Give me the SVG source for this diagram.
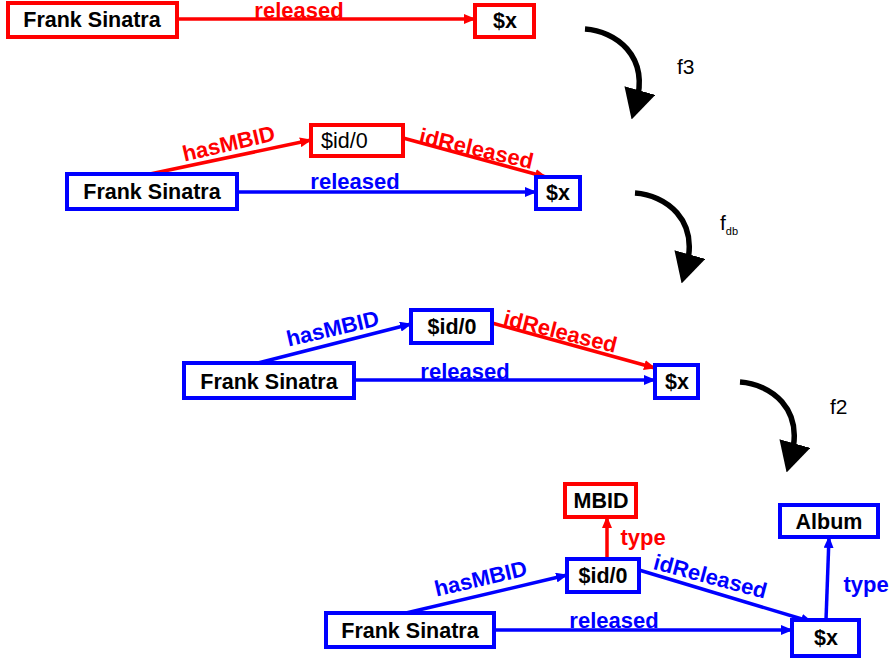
<svg xmlns="http://www.w3.org/2000/svg" width="889" height="661" viewBox="0 0 889 661">
  <defs>
    <marker id="ahR" viewBox="0 0 12 10" refX="11" refY="5" markerWidth="12" markerHeight="10" markerUnits="userSpaceOnUse" orient="auto">
      <path d="M0,0 L12,5 L0,10 z" fill="#ff0000"/>
    </marker>
    <marker id="ahB" viewBox="0 0 12 10" refX="11" refY="5" markerWidth="12" markerHeight="10" markerUnits="userSpaceOnUse" orient="auto">
      <path d="M0,0 L12,5 L0,10 z" fill="#0000ff"/>
    </marker>
    <marker id="ahK" viewBox="0 0 30 32" refX="14" refY="16" markerWidth="30" markerHeight="32" markerUnits="userSpaceOnUse" orient="auto">
      <path d="M0,0 L30,16 L0,32 z" fill="#000"/>
    </marker>
  </defs>
  <style>
    .bx { fill: #fff; stroke-width: 4; }
    .r { stroke: #ff0000; }
    .b { stroke: #0000ff; }
    .t { font-family: "Liberation Sans", Arial, sans-serif; font-size: 21.5px; font-weight: bold; fill: #000; text-anchor: middle; }
    .lbl { font-family: "Liberation Sans", Arial, sans-serif; font-size: 22px; font-weight: bold; text-anchor: middle; }
    .lr { fill: #ff0000; }
    .lb { fill: #0000ff; }
    .e { fill: none; stroke-width: 3.5; }
    .er { stroke: #ff0000; marker-end: url(#ahR); }
    .eb { stroke: #0000ff; marker-end: url(#ahB); }
    .step { fill: none; stroke: #000; stroke-width: 5.5; marker-end: url(#ahK); }
    .fn { font-family: "Liberation Sans", Arial, sans-serif; font-size: 21px; fill: #000; }
  </style>

  <!-- connectors -->
  <g id="connectors">
    <!-- graph 1 -->
    <line class="e er" x1="177" y1="19" x2="475" y2="19"/>
    <!-- graph 2 -->
    <line class="e er" x1="150" y1="174" x2="311" y2="140"/>
    <line class="e er" x1="403" y1="138" x2="546" y2="177"/>
    <line class="e eb" x1="237" y1="192" x2="536" y2="192"/>
    <!-- graph 3 -->
    <line class="e eb" x1="258" y1="363" x2="411" y2="324"/>
    <line class="e er" x1="492" y1="323" x2="655" y2="368"/>
    <line class="e eb" x1="354" y1="380" x2="655" y2="380"/>
    <!-- graph 4 -->
    <line class="e er" x1="607" y1="559" x2="607" y2="517"/>
    <line class="e eb" x1="406" y1="613" x2="567" y2="575"/>
    <line class="e eb" x1="639" y1="570" x2="812" y2="622"/>
    <line class="e eb" x1="494" y1="630" x2="792" y2="630"/>
    <line class="e eb" x1="826" y1="620" x2="829" y2="537"/>

    <!-- edge labels -->
    <text class="lbl lr" x="299" y="18">released</text>
    <text class="lbl lr" x="229" y="151" transform="rotate(-13 229 145)">hasMBID</text>
    <text class="lbl lr" x="476" y="156" transform="rotate(13 476 150)">idReleased</text>
    <text class="lbl lb" x="355" y="189">released</text>
    <text class="lbl lb" x="333" y="336" transform="rotate(-13 333 330)">hasMBID</text>
    <text class="lbl lr" x="560" y="339" transform="rotate(14 560 333)">idReleased</text>
    <text class="lbl lb" x="465" y="379">released</text>
    <text class="lbl lr" x="643" y="545">type</text>
    <text class="lbl lb" x="481" y="586" transform="rotate(-13 481 580)">hasMBID</text>
    <text class="lbl lb" x="710" y="584" transform="rotate(15 710 578)">idReleased</text>
    <text class="lbl lb" x="614" y="628">released</text>
    <text class="lbl lb" x="866" y="592">type</text>
  </g>

  <!-- transformation steps -->
  <g id="step-f3">
    <path class="step" d="M585,29 C615,31 650,55 636,104"/>
    <text class="fn" x="677" y="74">f3</text>
  </g>
  <g id="step-fdb">
    <path class="step" d="M635,193 C665,195 700,219 686,268"/>
    <text class="fn" x="720" y="230">f<tspan font-size="11" dy="5">db</tspan></text>
  </g>
  <g id="step-f2">
    <path class="step" d="M740,382 C770,384 805,408 791,457"/>
    <text class="fn" x="830" y="414">f2</text>
  </g>

  <!-- graph 1 -->
  <g id="g1-frank">
    <rect class="bx r" x="8" y="3" width="169" height="34"/>
    <text class="t" x="92" y="27">Frank Sinatra</text>
  </g>
  <g id="g1-x">
    <rect class="bx r" x="475" y="5" width="59" height="32"/>
    <text class="t" x="505" y="28">$x</text>
  </g>

  <!-- graph 2 -->
  <g id="g2-id">
    <rect class="bx r" x="311" y="125" width="92" height="31"/>
    <text class="t" x="321" y="148" style="font-weight:normal;text-anchor:start">$id/0</text>
  </g>
  <g id="g2-frank">
    <rect class="bx b" x="67" y="174" width="170" height="35"/>
    <text class="t" x="152" y="199">Frank Sinatra</text>
  </g>
  <g id="g2-x">
    <rect class="bx b" x="536" y="177" width="44" height="32"/>
    <text class="t" x="558" y="200">$x</text>
  </g>

  <!-- graph 3 -->
  <g id="g3-id">
    <rect class="bx b" x="411" y="310" width="81" height="33"/>
    <text class="t" x="452" y="334">$id/0</text>
  </g>
  <g id="g3-frank">
    <rect class="bx b" x="184" y="363" width="170" height="35"/>
    <text class="t" x="269" y="389">Frank Sinatra</text>
  </g>
  <g id="g3-x">
    <rect class="bx b" x="655" y="365" width="43" height="33"/>
    <text class="t" x="677" y="389">$x</text>
  </g>

  <!-- graph 4 -->
  <g id="g4-mbid">
    <rect class="bx r" x="565" y="484" width="71" height="33"/>
    <text class="t" x="601" y="508">MBID</text>
  </g>
  <g id="g4-id">
    <rect class="bx b" x="567" y="559" width="72" height="33"/>
    <text class="t" x="603" y="583">$id/0</text>
  </g>
  <g id="g4-album">
    <rect class="bx b" x="780" y="505" width="98" height="32"/>
    <text class="t" x="829" y="529">Album</text>
  </g>
  <g id="g4-frank">
    <rect class="bx b" x="326" y="613" width="168" height="34"/>
    <text class="t" x="410" y="638">Frank Sinatra</text>
  </g>
  <g id="g4-x">
    <rect class="bx b" x="792" y="620" width="67" height="36"/>
    <text class="t" x="826" y="645">$x</text>
  </g>
</svg>
